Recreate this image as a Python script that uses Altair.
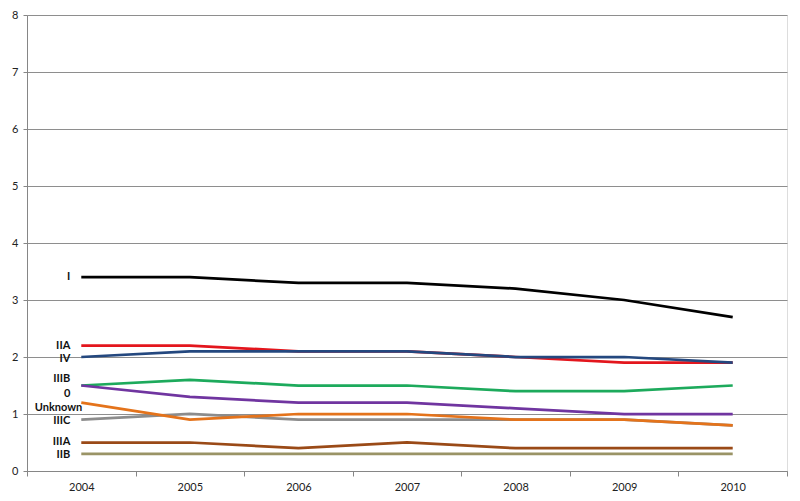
import altair as alt
import pandas as pd

years = ["2004", "2005", "2006", "2007", "2008", "2009", "2010"]

series_names = ["I", "IIA", "IV", "IIIB", "0", "IIIC", "Unknown", "IIIA", "IIB"]
s_I = [3.4, 3.4, 3.3, 3.3, 3.2, 3.0, 2.7]
s_IIA = [2.2, 2.2, 2.1, 2.1, 2.0, 1.9, 1.9]
s_IV = [2.0, 2.1, 2.1, 2.1, 2.0, 2.0, 1.9]
s_IIIB = [1.5, 1.6, 1.5, 1.5, 1.4, 1.4, 1.5]
s_0 = [1.5, 1.3, 1.2, 1.2, 1.1, 1.0, 1.0]
s_IIIC = [0.9, 1.0, 0.9, 0.9, 0.9, 0.9, 0.8]
s_Unknown = [1.2, 0.9, 1.0, 1.0, 0.9, 0.9, 0.8]
s_IIIA = [0.5, 0.5, 0.4, 0.5, 0.4, 0.4, 0.4]
s_IIB = [0.3, 0.3, 0.3, 0.3, 0.3, 0.3, 0.3]

y_ticks = [0, 1, 2, 3, 4, 5, 6, 7, 8]

series_values = [s_I, s_IIA, s_IV, s_IIIB, s_0, s_IIIC, s_Unknown, s_IIIA, s_IIB]
colors = ["#000000", "#E3161D", "#24487F", "#1DAA5C", "#7035A0",
          "#8C8C8C", "#E4731B", "#9A4A17", "#9A9466"]

# label nudges (style, px)
label_dy = {"I": 0, "IIA": 0, "IV": 2, "IIIB": -7, "0": 8, "IIIC": 1,
            "Unknown": 5, "IIIA": -1, "IIB": 1}
label_dx = {"Unknown": 12}

rows = []
for order, (name, vals) in enumerate(zip(series_names, series_values)):
    for y, v in zip(years, vals):
        rows.append({"series": name, "year": y, "value": v, "order": order})
df = pd.DataFrame(rows)

lab_rows = []
for name, vals in zip(series_names, series_values):
    lab_rows.append({"series": name, "year": years[0], "value": vals[0]})
lab_df = pd.DataFrame(lab_rows)

FONT = "Lato"

xscale = alt.Scale(type="band", domain=years, paddingInner=0, paddingOuter=0)
yscale = alt.Scale(domain=[0, 8], nice=False)
cscale = alt.Scale(domain=series_names, range=colors)

lines = alt.Chart(df).mark_line(strokeWidth=2.75, clip=False).encode(
    x=alt.X("year:O", scale=xscale, bandPosition=0.5,
            axis=alt.Axis(title=None, labelAngle=0, tickBand="extent",
                          grid=False, domainColor="#868686", tickColor="#868686",
                          tickSize=5, labelPadding=5, labelFont=FONT,
                          labelFontSize=11, labelColor="#222222")),
    y=alt.Y("value:Q", scale=yscale,
            axis=alt.Axis(title=None, values=y_ticks, format="d",
                          grid=True, gridColor="#8E8E8E", gridWidth=1,
                          domainColor="#868686", tickColor="#868686",
                          tickSize=4, labelPadding=5, labelFont=FONT,
                          labelFontSize=11, labelColor="#222222")),
    color=alt.Color("series:N", scale=cscale, legend=None),
    order=alt.Order("order:Q"),
    detail="series:N",
)

label_layers = []
for name in series_names:
    sub = lab_df[lab_df["series"] == name]
    t = alt.Chart(sub).mark_text(
        align="right", baseline="middle", font=FONT, fontSize=11,
        fontWeight="bold", color="#111111",
        dx=-11 + label_dx.get(name, 0),
        dy=label_dy[name],
    ).encode(
        x=alt.X("year:O", scale=xscale, bandPosition=0.5),
        y=alt.Y("value:Q", scale=yscale),
        text="series:N",
    )
    label_layers.append(t)

chart = alt.layer(lines, *label_layers).properties(
    width=760,
    height=456,
    autosize=alt.AutoSizeParams(type="none"),
    padding={"left": 19, "top": 7, "right": 5, "bottom": 22},
).configure_view(stroke=None).configure(background="white")

chart.save("out.html", embed_options={"renderer": "svg", "actions": False})
